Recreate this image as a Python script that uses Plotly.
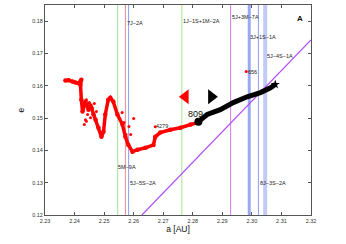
import plotly.graph_objects as go

# red track (a, e)
red_a = [2.2369, 2.2380, 2.2393, 2.2403, 2.2413, 2.2423, 2.2420, 2.2423, 2.2427, 2.2437, 2.2447, 2.2454,
         2.2464, 2.2471, 2.2481, 2.2491, 2.2498, 2.2504, 2.2514, 2.2521, 2.2531, 2.2545, 2.2562, 2.2572,
         2.2582, 2.2596, 2.2613, 2.2640, 2.2667, 2.2673, 2.2690, 2.2724, 2.2758, 2.2792, 2.2815]
red_e = [0.1616, 0.1617, 0.1613, 0.1610, 0.1608, 0.1619, 0.1602, 0.1557, 0.1520, 0.1551, 0.1526, 0.1539,
         0.1511, 0.1495, 0.1470, 0.1442, 0.1458, 0.1511, 0.1557, 0.1563, 0.1551, 0.1511, 0.1480, 0.1442,
         0.1417, 0.1396, 0.1402, 0.1408, 0.1417, 0.1442, 0.1455, 0.1464, 0.1470, 0.1480, 0.1486]
# scattered red points
scat_a = [2.2561, 2.2567, 2.2574, 2.2584, 2.2590, 2.2600, 2.2440, 2.2450, 2.2460, 2.2433,
          2.2440, 2.2450, 2.2460, 2.2467, 2.2474, 2.2444, 2.2454, 2.2437]
scat_e = [0.1517, 0.1486, 0.1449, 0.1474, 0.1449, 0.1499, 0.1490, 0.1545, 0.1530, 0.1480,
          0.1557, 0.1548, 0.1532, 0.1545, 0.1520, 0.1511, 0.1501, 0.1495]
# black track
blk_a = [2.2819, 2.2849, 2.2893, 2.2937, 2.2984, 2.3029, 2.3063, 2.3079]
blk_e = [0.1489, 0.1511, 0.1526, 0.1548, 0.1566, 0.1579, 0.1594, 0.1604]
# resonance line
diag_a = [2.2628, 2.3200]
diag_e = [0.1200, 0.1742]

vlines = [(2.2546, "#9ee39e", 1), (2.2572, "#e88a8a", 1), (2.2583, "#8c9cf2", 1),
          (2.2763, "#a6e68a", 1), (2.2928, "#d77ce8", 1), (2.2991, "#9aa8f2", 3),
          (2.3022, "#8c9cf2", 1), (2.3045, "#c2cbf8", 4)]

labels = [("7J\u22122A", 2.2604, 0.1793), ("1J\u22121S+1M\u22122A", 2.2829, 0.1799),
          ("5J+3M\u22127A", 2.2977, 0.1812), ("3J+1S\u22121A", 2.3038, 0.1750),
          ("5J\u22124S\u22121A", 2.3096, 0.1691), ("5M\u22129A", 2.2577, 0.1349),
          ("5J\u22125S\u22122A", 2.2631, 0.1299), ("8J\u22123S\u22122A", 2.3070, 0.1299)]

fig = go.Figure()
for xv, col, w in vlines:
    fig.add_shape(type="line", x0=xv, x1=xv, y0=0.12, y1=0.185, line=dict(color=col, width=w), layer="below")

fig.add_trace(go.Scatter(x=diag_a, y=diag_e, mode="lines", line=dict(color="#b04cf8", width=1.2)))
fig.add_trace(go.Scatter(x=red_a, y=red_e, mode="lines+markers", line=dict(color="red", width=3.5),
                         marker=dict(color="red", size=4.5)))
fig.add_trace(go.Scatter(x=scat_a, y=scat_e, mode="markers", marker=dict(color="red", size=3)))
fig.add_trace(go.Scatter(x=blk_a, y=blk_e, mode="lines", line=dict(color="black", width=5)))
fig.add_trace(go.Scatter(x=[blk_a[-1]], y=[blk_e[-1]], mode="markers",
                         marker=dict(color="black", size=7, symbol="star")))
fig.add_trace(go.Scatter(x=[2.2819], y=[0.1489], mode="markers", marker=dict(color="black", size=8)))
fig.add_trace(go.Scatter(x=[2.2981, 2.2673], y=[0.1644, 0.1473], mode="markers", marker=dict(color="red", size=3)))
fig.add_trace(go.Scatter(x=[2.2775], y=[0.1566], mode="markers",
                         marker=dict(color="red", size=13, symbol="triangle-left")))
fig.add_trace(go.Scatter(x=[2.2863], y=[0.1566], mode="markers",
                         marker=dict(color="black", size=13, symbol="triangle-right")))

for t, xa, ye in labels:
    fig.add_annotation(x=xa, y=ye, text=t, showarrow=False, font=dict(size=5.5, color="#222"))
fig.add_annotation(x=2.3001, y=0.1644, text="656", showarrow=False, font=dict(size=5.5, color="#222"))
fig.add_annotation(x=2.2696, y=0.1474, text="4279", showarrow=False, font=dict(size=5.5, color="#222"))
fig.add_annotation(x=2.2808, y=0.1512, text="809", showarrow=False, font=dict(size=9, color="#111"))
fig.add_annotation(x=2.3163, y=0.1809, text="<b>A</b>", showarrow=False, font=dict(size=8, color="#111"))

axcommon = dict(showgrid=False, zeroline=False, showline=True, linecolor="#555", linewidth=1,
                mirror="ticks", ticks="inside", ticklen=3, tickcolor="#555", automargin=False,
                tickfont=dict(size=5.5, color="#333"))
fig.update_xaxes(range=[2.23, 2.32], dtick=0.01, tick0=2.23, tickformat=".2f",
                 title=dict(text="a [AU]", font=dict(size=8.5, color="#111"), standoff=2), **axcommon)
fig.update_yaxes(range=[0.12, 0.185], dtick=0.01, tick0=0.12, tickformat=".2f",
                 title=dict(text="e", font=dict(size=8.5, color="#111"), standoff=6), **axcommon)
fig.update_layout(width=346, height=244, margin=dict(l=45, r=35, t=5, b=29),
                  paper_bgcolor="white", plot_bgcolor="white", showlegend=False, hovermode=False,
                  font=dict(family="Liberation Sans, Arial, sans-serif"))
fig.write_html("out.html", config={"displayModeBar": False},
               post_script="document.body.style.margin='0';document.body.style.overflow='hidden';")
